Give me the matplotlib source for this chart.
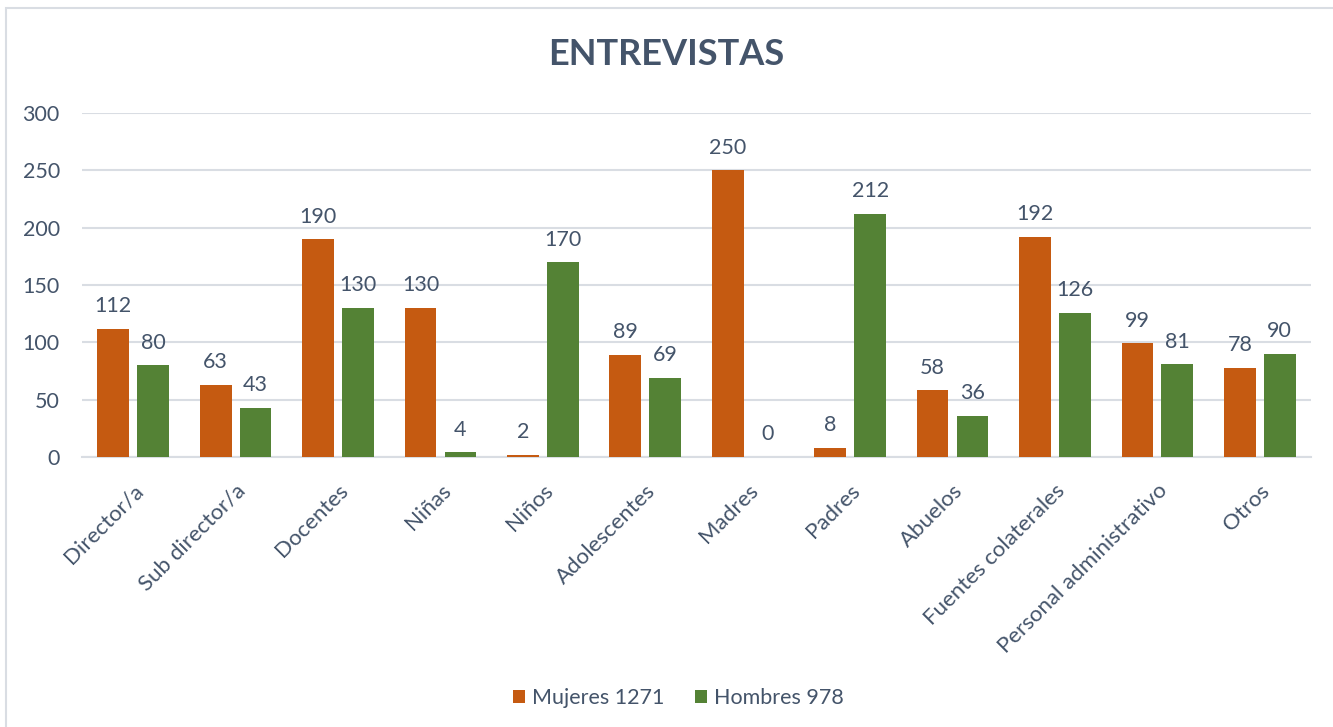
import numpy as np
import matplotlib
matplotlib.use("Agg")
import matplotlib.pyplot as plt
from matplotlib.patches import Rectangle

categorias = ["Director/a", "Sub director/a", "Docentes", "Niñas", "Niños",
              "Adolescentes", "Madres", "Padres", "Abuelos",
              "Fuentes colaterales", "Personal administrativo", "Otros"]
mujeres = [112, 63, 190, 130, 2, 89, 250, 8, 58, 192, 99, 78]
hombres = [80, 43, 130, 4, 170, 69, 0, 212, 36, 126, 81, 90]
etiquetas = ["Mujeres 1271", "Hombres 978"]

color_m = "#C55A11"
color_h = "#548235"
texto = "#44546A"
rejilla = "#D9DDE3"
fs = 15.5

plt.rcParams['font.family'] = ['Lato', 'DejaVu Sans']

fig = plt.figure(figsize=(13.33, 7.27), dpi=100)
ax = fig.add_axes([0.0615, 0.3714, 0.922, 0.4732])

# marco del area del grafico (solo se ve arriba y a la izquierda)
fig.add_artist(Rectangle((6 / 1333, -0.05), 1.2, 1 - 8 / 727 + 0.05,
                         transform=fig.transFigure, fill=False,
                         edgecolor=rejilla, linewidth=1.5))

x = np.arange(len(categorias))
ancho = 0.31
b1 = ax.bar(x - 0.195, mujeres, ancho, color=color_m, label=etiquetas[0], zorder=3)
b2 = ax.bar(x + 0.195, hombres, ancho, color=color_h, label=etiquetas[1], zorder=3)

for barras in (b1, b2):
    for r in barras:
        ax.annotate(str(int(r.get_height())),
                    (r.get_x() + r.get_width() / 2, r.get_height()),
                    xytext=(0, 9), textcoords="offset points",
                    ha="center", va="bottom", fontsize=fs, color=texto)

ax.set_xlim(-0.5, len(categorias) - 0.5)
ax.set_ylim(0, 300)
ax.set_yticks(range(0, 301, 50))
ax.yaxis.grid(True, color=rejilla, linewidth=1.5, zorder=0)
ax.set_axisbelow(True)
for s in ["top", "right", "left"]:
    ax.spines[s].set_visible(False)
ax.spines["bottom"].set_color(rejilla)
ax.spines["bottom"].set_linewidth(1.5)
ax.tick_params(axis="both", length=0, labelsize=fs, labelcolor=texto)
ax.tick_params(axis="y", pad=16)
ax.set_xticks(x)
ax.set_xticklabels(categorias, rotation=45, ha="right", rotation_mode="anchor",
                   fontsize=16)
ax.tick_params(axis="x", pad=17)

fig.text(0.5, 0.925, "ENTREVISTAS", ha="center", va="center",
         fontsize=26, fontweight="bold", color=texto)

fig.legend(handles=[b1, b2], labels=etiquetas, loc="center",
           bbox_to_anchor=(0.509, 0.04), ncol=2, frameon=False,
           fontsize=fs, labelcolor=texto, handlelength=0.56,
           handleheight=0.56, handletextpad=0.33, columnspacing=1.4)

fig.savefig("out.png", dpi=100)
